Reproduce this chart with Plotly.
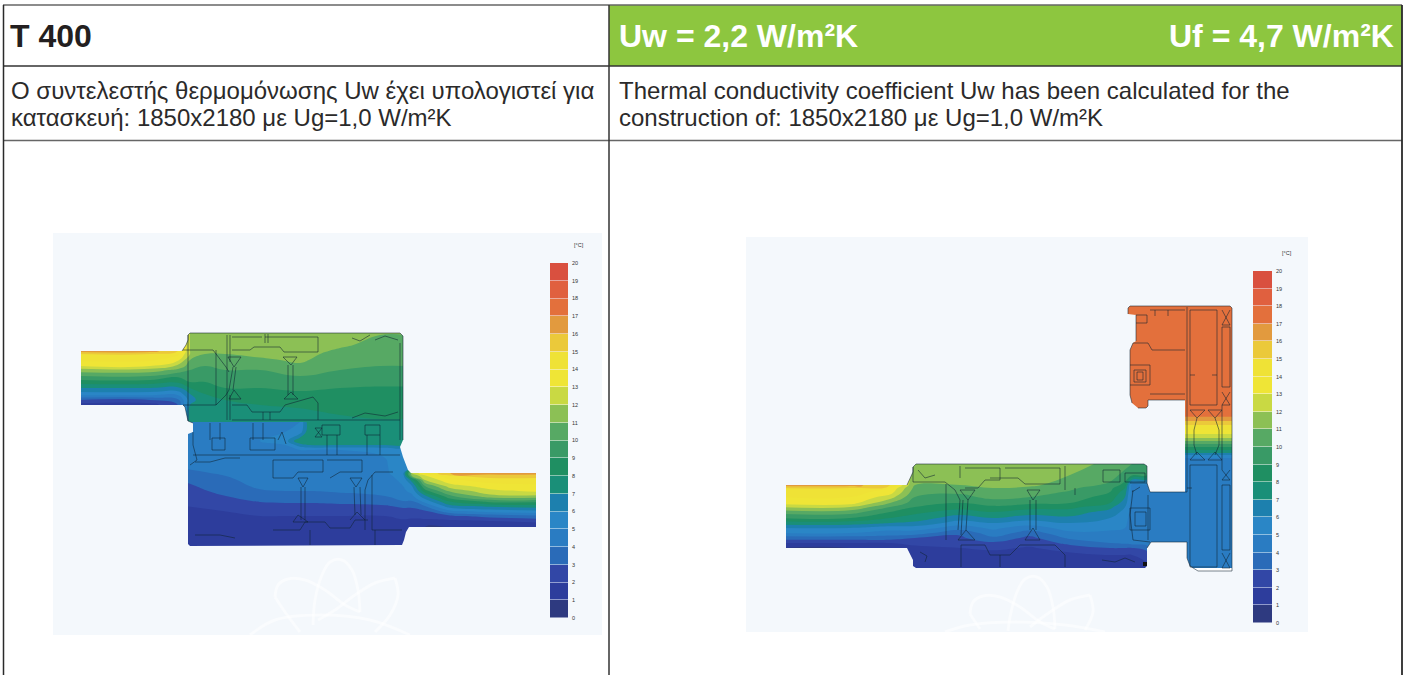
import plotly.graph_objects as go

# ---------- text ----------
TITLE = "T 400"
UW = "Uw = 2,2 W/m²K"
UF = "Uf = 4,7 W/m²K"
GR_1 = "Ο συντελεστής θερμομόνωσης Uw έχει υπολογιστεί για"
GR_2 = "κατασκευή: 1850x2180 με Ug=1,0 W/m²K"
EN_1 = "Thermal conductivity coefficient Uw has been calculated for the"
EN_2 = "construction of: 1850x2180 με Ug=1,0 W/m²K"

# ---------- temperature scale (°C bands, coldest first) ----------
BAND_EDGES = list(range(0, 21))
BAND_COLORS = ["#2e3a80", "#2d3d9c", "#3247a6", "#2a6bb8", "#2a7cc2", "#2a86c6", "#1d80ae",
               "#1a8f78", "#1f8f62", "#399a66", "#57a964", "#8cc055", "#c9d943", "#efe536",
               "#efe236", "#ebc93a", "#e29a3e", "#e3703c", "#e0603f", "#d9503f"]

# ---------- left section: temperatures read at picture positions ----------
LU_X = [80, 150, 178, 190, 205, 225, 260, 300, 340, 380, 405]
LU_Y = [330, 345, 351, 354, 360, 366, 370, 376, 382, 388, 394, 400, 405, 415, 423]
LU_T = [
    [16.5, 16.5, 15.5, 12, 11.5, 11.5, 11.5, 11.5, 11.5, 11.2, 11.2],
    [16.5, 16.5, 15.5, 12, 11.5, 11.5, 11.5, 11.5, 11.2, 10.6, 10.6],
    [16.5, 16.5, 15.0, 12, 11.5, 11.5, 11.5, 11.5, 10.8, 10.3, 10.3],
    [15.0, 15.0, 14.2, 12, 11.0, 11.0, 11.3, 11.5, 10.5, 10.2, 10.2],
    [14.2, 14.2, 13.2, 11, 10.5, 11.0, 10.8, 11.2, 10.3, 10.1, 10.1],
    [13.0, 13.0, 11.8, 10.5, 10.0, 10.5, 10.2, 10.8, 10.2, 10.0, 10.0],
    [11.6, 11.6, 10.7, 10.0, 10.0, 10.0, 10.0, 10.3, 10.0, 9.9, 9.9],
    [10.0, 10.0, 9.2, 9.5, 9.5, 9.7, 9.8, 10.0, 9.7, 9.6, 9.6],
    [8.5, 8.5, 8.2, 9.0, 9.0, 9.3, 9.5, 9.7, 9.4, 9.3, 9.3],
    [7.0, 7.0, 6.8, 8.0, 8.5, 9.0, 9.0, 9.2, 9.0, 8.9, 8.9],
    [5.5, 5.5, 5.3, 7.0, 8.0, 8.5, 8.6, 8.8, 8.7, 8.7, 8.7],
    [3.0, 3.0, 3.8, 6.5, 7.8, 8.0, 8.2, 8.4, 8.4, 8.5, 8.5],
    [1.5, 1.5, 3.0, 7.0, 7.8, 7.8, 8.0, 8.1, 8.2, 8.3, 8.3],
    [1.0, 1.0, 3.0, 7.5, 7.8, 7.5, 7.7, 7.8, 8.0, 8.1, 8.1],
    [1.0, 1.0, 3.0, 7.5, 7.5, 7.5, 7.5, 7.5, 7.8, 7.9, 7.9],
]

LL_X = [185, 260, 285, 300, 310, 340, 385, 403, 412, 425, 450, 490, 537]
LL_Y = [422, 432, 441, 445, 450, 458, 466, 473, 476, 480, 486, 491, 496, 501, 506, 511, 516, 521, 527, 535, 546]
LL_T = [
    [5.0, 5.0, 5.0, 5.0, 8.0, 8.0, 8.0, 8.0, 5.5, 14.0, 16.0, 16.5, 16.5],
    [5.0, 5.0, 5.0, 5.5, 8.0, 8.0, 8.0, 8.0, 5.5, 14.0, 16.0, 16.5, 16.5],
    [5.0, 5.0, 5.5, 8.0, 8.0, 8.0, 8.0, 8.0, 5.5, 14.0, 16.0, 16.5, 16.5],
    [5.0, 5.0, 5.0, 6.5, 7.0, 7.0, 7.0, 7.0, 5.5, 14.0, 16.0, 16.5, 16.5],
    [5.0, 5.0, 5.0, 5.0, 5.0, 5.0, 5.2, 5.5, 5.5, 14.0, 16.0, 16.5, 16.5],
    [4.8, 4.9, 4.9, 4.9, 4.9, 4.9, 5.0, 5.5, 5.5, 14.0, 16.0, 16.5, 16.5],
    [4.2, 4.8, 4.8, 4.8, 4.8, 4.8, 4.9, 5.5, 5.5, 14.0, 16.0, 16.5, 16.5],
    [3.7, 4.6, 4.7, 4.7, 4.7, 4.7, 4.8, 5.6, 12.0, 14.0, 16.0, 16.5, 16.5],
    [3.4, 4.5, 4.6, 4.6, 4.6, 4.6, 4.7, 5.4, 11.0, 12.8, 14.8, 15.5, 15.5],
    [3.1, 4.4, 4.4, 4.4, 4.4, 4.5, 4.6, 5.2, 7.5, 12.0, 13.8, 14.5, 14.5],
    [2.8, 4.2, 4.3, 4.3, 4.3, 4.4, 4.5, 5.0, 6.0, 10.0, 12.5, 13.5, 13.8],
    [2.6, 3.9, 4.0, 4.0, 4.0, 4.1, 4.3, 4.8, 5.3, 8.6, 11.2, 12.7, 13.2],
    [2.4, 3.5, 3.6, 3.6, 3.6, 3.8, 4.0, 4.5, 4.8, 6.8, 9.8, 11.7, 11.8],
    [2.2, 3.1, 3.2, 3.2, 3.2, 3.3, 3.5, 4.0, 4.0, 5.5, 8.2, 9.5, 9.5],
    [2.0, 2.6, 2.7, 2.7, 2.7, 2.8, 2.9, 3.2, 3.2, 4.0, 6.7, 7.3, 7.6],
    [1.8, 2.2, 2.3, 2.3, 2.3, 2.3, 2.3, 2.7, 2.7, 2.9, 4.8, 5.5, 5.8],
    [1.6, 2.0, 2.0, 2.0, 2.0, 2.0, 2.0, 2.2, 2.2, 2.3, 2.8, 3.4, 3.8],
    [1.5, 1.8, 1.8, 1.8, 1.8, 1.8, 1.8, 1.9, 1.8, 1.8, 1.8, 2.0, 2.3],
    [1.4, 1.6, 1.6, 1.6, 1.6, 1.6, 1.6, 1.6, 1.2, 1.0, 1.0, 1.0, 1.0],
    [1.3, 1.4, 1.4, 1.4, 1.4, 1.4, 1.4, 1.5, 1.2, 1.0, 1.0, 1.0, 1.0],
    [1.2, 1.2, 1.2, 1.2, 1.2, 1.2, 1.2, 1.2, 1.0, 1.0, 1.0, 1.0, 1.0],
]

# ---------- right section ----------
RB_X = [780, 850, 890, 915, 960, 993, 1030, 1070, 1110, 1125, 1132, 1147, 1150, 1240]
RB_Y = [464, 475, 485, 488, 492, 497, 503, 507, 512, 518, 523, 528, 533, 538, 543, 548, 555, 568]
RB_T = [
    [16.5, 16.5, 15.0, 11.5, 11.5, 11.5, 11.5, 11.3, 10.8, 10.3, 10.0, 10.0, 4.5, 4.5],
    [16.5, 16.5, 15.0, 11.3, 11.5, 11.4, 11.5, 11.0, 10.4, 9.7, 9.2, 9.0, 4.5, 4.5],
    [16.5, 16.5, 15.0, 11.0, 11.0, 11.2, 11.2, 10.5, 9.8, 8.6, 4.5, 4.5, 4.5, 4.5],
    [15.0, 15.0, 14.0, 10.7, 10.5, 11.0, 10.8, 10.2, 9.3, 8.0, 4.5, 4.5, 4.5, 4.5],
    [14.5, 14.5, 13.5, 10.4, 10.2, 10.7, 10.4, 9.9, 9.0, 7.5, 4.5, 4.5, 4.5, 4.5],
    [14.0, 14.0, 12.5, 10.0, 9.7, 10.3, 10.0, 9.5, 8.6, 7.0, 4.5, 4.5, 4.5, 4.5],
    [13.5, 13.5, 11.0, 9.5, 9.0, 9.5, 9.2, 9.0, 8.0, 6.5, 4.5, 4.5, 4.5, 4.5],
    [12.0, 12.0, 10.0, 9.0, 8.5, 8.8, 8.4, 8.3, 7.3, 6.0, 4.5, 4.5, 4.5, 4.5],
    [10.5, 10.5, 9.0, 8.3, 7.5, 8.0, 7.5, 7.5, 6.6, 5.7, 4.5, 4.5, 4.5, 4.5],
    [9.0, 9.0, 8.0, 7.5, 6.5, 7.0, 6.5, 6.8, 6.0, 5.4, 4.5, 4.5, 4.5, 4.5],
    [7.5, 7.5, 7.0, 6.8, 5.5, 6.0, 5.5, 6.0, 5.6, 5.2, 4.5, 4.5, 4.5, 4.5],
    [6.0, 6.0, 5.5, 5.5, 4.5, 5.2, 4.5, 5.4, 5.2, 5.0, 4.5, 4.5, 4.5, 4.5],
    [5.0, 5.0, 4.5, 4.5, 3.2, 4.6, 3.5, 4.8, 4.8, 4.7, 4.5, 4.5, 4.5, 4.5],
    [3.5, 3.5, 3.5, 3.0, 2.8, 3.8, 2.7, 4.2, 4.5, 4.5, 4.5, 4.5, 4.5, 4.5],
    [2.0, 2.0, 2.0, 2.2, 2.4, 2.8, 2.3, 3.3, 4.0, 4.2, 4.4, 4.5, 4.5, 4.5],
    [1.0, 1.0, 1.2, 1.8, 2.0, 2.2, 1.9, 2.5, 3.0, 3.0, 3.0, 3.5, 4.5, 4.5],
    [1.0, 1.0, 1.0, 1.5, 1.5, 1.6, 1.5, 1.7, 2.0, 2.0, 2.0, 2.4, 4.5, 4.5],
    [1.0, 1.0, 1.0, 1.3, 1.3, 1.3, 1.3, 1.4, 1.5, 1.5, 1.5, 1.8, 4.5, 4.5],
]

RW_X = [1125, 1240]
RW_Y = [300, 410, 416, 421, 425, 430, 434, 438, 441, 444, 447, 450, 453, 456, 460, 465]
RW_T_COL = [17.5, 17.5, 17.2, 16.0, 15.0, 14.0, 13.0, 12.0, 11.0, 10.0, 9.0, 8.0, 7.0, 5.5, 4.5, 4.5]

# ---------- picture panels and section outlines ----------
PANEL_L = [(53, 233), (53, 635), (602, 635), (602, 233), (53, 233)]
PANEL_R = [(746, 237), (746, 632), (1308, 632), (1308, 237), (746, 237)]

OUTLINE_L = [(81, 351), (182, 351), (186, 345), (188, 340), (188, 335), (190, 333), (400, 333), (403, 336),
             (403, 440), (400, 447), (403, 457), (408, 470), (411, 473), (536, 473), (536, 527), (409, 527),
             (406, 532), (404, 540), (402, 545), (190, 546), (188, 544), (188, 434), (193, 432), (193, 423),
             (188, 421), (185, 407), (183, 405), (81, 405), (81, 351)]
OUTLINE_R = [(786, 485), (907, 485), (913, 472), (913, 467), (916, 464), (1144, 464), (1147, 466), (1147, 483),
             (1150, 492), (1185, 492), (1185, 400), (1148, 400), (1148, 406), (1146, 408), (1138, 408),
             (1132, 403), (1130, 395), (1130, 350), (1133, 343), (1136, 341), (1136, 315), (1128, 314),
             (1128, 308), (1130, 306), (1230, 306), (1232, 308), (1232, 571), (1198, 571), (1190, 566),
             (1187, 558), (1187, 542), (1151, 542), (1147, 548), (1147, 566), (1145, 568), (916, 568),
             (913, 566), (913, 560), (907, 548), (786, 548), (786, 485)]

# ---------- profile line work ----------
LINES_L = [
    [(188, 421), (185, 407), (183, 405)], [(182, 351), (186, 345), (188, 340), (188, 335), (190, 333), (400, 333), (403, 336), (403, 440)],
    [(188, 335), (188, 421), (193, 423)], [(400, 343), (400, 440)],
    [(183, 350), (213, 350), (226, 367), (229, 372)], [(216, 350), (216, 405)], [(183, 405), (216, 405), (226, 395), (229, 390)],
    [(227, 335), (227, 420)], [(230, 335), (230, 362)], [(230, 395), (230, 420)],
    [(228, 357), (241, 357), (234, 367), (228, 357)], [(233, 367), (229, 390)], [(236, 367), (233, 390)], [(229, 399), (241, 399), (234, 390), (229, 399)],
    [(232, 337), (262, 337)], [(265, 337), (318, 337), (318, 352), (284, 352), (280, 347), (254, 347), (250, 350), (232, 350)],
    [(265, 334), (265, 343)], [(268, 334), (268, 343)],
    [(283, 357), (297, 357), (291, 365), (283, 357)], [(288, 365), (288, 395)], [(293, 365), (293, 395)], [(284, 399), (298, 399), (291, 392), (284, 399)],
    [(232, 405), (247, 405), (252, 412), (280, 412), (285, 405), (313, 397), (318, 403), (318, 420)], [(232, 420), (400, 420)],
    [(263, 412), (263, 420)], [(270, 412), (270, 420)],
    [(352, 338), (360, 341), (370, 335)], [(375, 340), (385, 336), (398, 340)], [(352, 418), (365, 413), (385, 416), (398, 412)],
    [(210, 423), (210, 440)], [(220, 423), (220, 440)], [(253, 423), (253, 440)], [(263, 423), (263, 440)],
    [(212, 438), (225, 438), (225, 450), (212, 450), (212, 438)], [(250, 438), (275, 438), (275, 450), (250, 450), (250, 438)],
    [(193, 455), (400, 455)], [(195, 462), (210, 462), (225, 458), (240, 458)],
    [(315, 428), (322, 437), (315, 437), (322, 428), (315, 428)], [(278, 440), (282, 432), (286, 444)],
    [(322, 425), (340, 425), (340, 435), (322, 435), (322, 425)], [(365, 425), (380, 425), (380, 435), (365, 435), (365, 425)],
    [(327, 435), (327, 455)], [(337, 435), (337, 455)], [(367, 435), (367, 455)], [(380, 435), (380, 455)],
    [(273, 460), (323, 460), (323, 472), (298, 472), (293, 478), (273, 478), (273, 460)], [(327, 460), (362, 460), (362, 472), (340, 472), (330, 478)],
    [(393, 472), (375, 472), (368, 480), (365, 490), (365, 530)], [(298, 478), (308, 478), (303, 487), (298, 478)], [(301, 487), (301, 520)], [(305, 487), (305, 520)],
    [(350, 478), (362, 478), (356, 487), (350, 478)], [(354, 487), (355, 515)], [(360, 487), (361, 515)], [(372, 475), (372, 530), (402, 530)],
    [(273, 530), (300, 530), (305, 522), (325, 522), (330, 528), (350, 528), (355, 520), (368, 520)], [(298, 515), (308, 522), (293, 522), (298, 515)],
    [(350, 520), (357, 512), (365, 520)], [(310, 530), (310, 545)], [(375, 530), (375, 545)],
    [(195, 535), (220, 535), (235, 538)], [(193, 432), (193, 445), (197, 460), (190, 465)],
]
LINES_R = [
    [(907, 485), (913, 472), (913, 467), (916, 464), (1144, 464), (1147, 466), (1147, 483)], [(913, 467), (913, 482), (945, 482), (955, 490), (960, 500), (958, 530)],
    [(946, 484), (946, 540)], [(960, 466), (960, 478)], [(965, 468), (1000, 468), (1000, 480), (985, 480), (978, 488), (965, 488)],
    [(1005, 468), (1060, 468), (1060, 484), (1025, 484), (1018, 478), (990, 478)], [(1065, 466), (1065, 490)], [(1075, 488), (1075, 495)],
    [(960, 490), (975, 490), (968, 500), (960, 490)], [(963, 500), (961, 535)], [(968, 500), (966, 530)],
    [(1027, 490), (1040, 490), (1033, 500), (1027, 490)], [(1030, 500), (1030, 530)], [(1036, 500), (1036, 530)], [(1025, 540), (1040, 540), (1033, 528), (1025, 540)],
    [(958, 540), (975, 540), (966, 530), (958, 540)], [(961, 545), (985, 545), (990, 555), (1010, 555), (1020, 545), (1055, 545), (1065, 555), (1065, 567)],
    [(961, 545), (961, 567)], [(1000, 555), (1000, 567)], [(918, 470), (925, 478), (935, 475)], [(920, 552), (927, 556), (925, 562)],
    [(1103, 470), (1120, 470), (1120, 482), (1103, 482), (1103, 470)], [(1125, 473), (1145, 473), (1145, 482), (1125, 482), (1125, 473)],
    [(1102, 560), (1115, 562), (1125, 558), (1135, 562)],
    [(1128, 314), (1128, 308), (1130, 306), (1230, 306), (1232, 308), (1232, 571), (1198, 571), (1190, 566), (1187, 558), (1187, 542), (1151, 542), (1147, 548)],
    [(1136, 341), (1136, 315), (1147, 315), (1147, 323), (1136, 323)], [(1150, 310), (1185, 310)], [(1155, 310), (1155, 316)], [(1168, 310), (1168, 316)],
    [(1133, 343), (1148, 343), (1152, 350), (1185, 350)], [(1132, 403), (1130, 395), (1130, 350), (1133, 343)], [(1185, 400), (1148, 400), (1148, 406), (1146, 408), (1138, 408)],
    [(1150, 394), (1185, 394)], [(1130, 365), (1150, 365), (1150, 385), (1130, 385)], [(1134, 370), (1146, 370), (1146, 382), (1134, 382), (1134, 370)], [(1137, 372), (1143, 372), (1143, 380), (1137, 380), (1137, 372)],
    [(1187, 307), (1187, 492)], [(1190, 310), (1217, 310), (1217, 405), (1190, 405), (1190, 310)], [(1190, 375), (1195, 375)], [(1217, 375), (1212, 375)],
    [(1222, 327), (1230, 327), (1230, 387), (1222, 387), (1222, 327)], [(1222, 310), (1230, 325), (1222, 325), (1230, 310)], [(1222, 392), (1230, 405), (1222, 405), (1230, 392)],
    [(1190, 410), (1205, 410), (1197, 418), (1190, 410)], [(1208, 410), (1222, 410), (1215, 418), (1208, 410)], [(1197, 418), (1194, 430), (1194, 445), (1197, 455)], [(1215, 418), (1219, 430), (1219, 445), (1215, 455)],
    [(1222, 405), (1222, 470)], [(1190, 460), (1205, 460), (1197, 452), (1190, 460)], [(1208, 460), (1222, 460), (1215, 452), (1208, 460)],
    [(1190, 465), (1217, 465), (1217, 567), (1190, 567), (1190, 465)], [(1222, 485), (1230, 485), (1230, 550), (1222, 550), (1222, 485)], [(1222, 470), (1230, 480), (1222, 480), (1230, 470)], [(1222, 553), (1230, 568), (1222, 568), (1230, 553)],
    [(1130, 483), (1147, 483), (1150, 492)], [(1133, 490), (1130, 515), (1133, 540), (1150, 542)], [(1140, 487), (1132, 492)], [(1148, 495), (1148, 540)],
    [(1130, 508), (1150, 508), (1150, 530), (1130, 530), (1130, 508)], [(1135, 512), (1146, 512), (1146, 526), (1135, 526), (1135, 512)], [(1187, 488), (1192, 488)], [(1150, 492), (1187, 492)],
]
WATERMARK_L = [
    [(275, 597), (278, 585), (288, 579), (305, 580), (325, 590), (345, 605), (360, 612)],
    [(313, 625), (315, 600), (322, 575), (330, 562), (342, 560), (352, 570), (358, 590), (360, 612)],
    [(275, 597), (285, 612), (300, 632)], [(395, 578), (375, 583), (355, 595), (335, 610), (318, 620)],
    [(395, 578), (398, 595), (390, 615), (375, 632)], [(250, 635), (275, 620), (320, 615), (370, 620), (410, 635)],
]
WATERMARK_R = [
    [(970, 614), (973, 602), (983, 596), (1000, 597), (1020, 607), (1040, 622), (1055, 629)],
    [(1008, 631), (1010, 617), (1017, 592), (1025, 579), (1037, 577), (1047, 587), (1053, 607), (1055, 629)],
    [(970, 614), (980, 629)], [(1090, 595), (1070, 600), (1050, 612), (1030, 627)],
    [(1090, 595), (1093, 612), (1085, 630)], [(945, 632), (970, 625), (1015, 622), (1065, 625), (1105, 632)],
]
BLACK_DOT = [(1145, 564)]

IMAGE_BG = "#f4f8fc"
LINE_COLOR = "rgba(15,35,50,0.55)"
INK = "#2b2a2a"
GREEN = "#8dc63f"

# ---------- build ----------
stepped = []
for i, c in enumerate(BAND_COLORS):
    stepped += [[i / 20, c], [(i + 1) / 20, c]]


def field(x, y, z):
    return go.Contour(x=x, y=y, z=z, zmin=0, zmax=20, colorscale=stepped, showscale=False,
                      contours=dict(start=0, end=20, size=1, coloring="fill", showlines=False),
                      line=dict(width=0, smoothing=1.3), hoverinfo="skip", xaxis="x", yaxis="y")


def poly(points, **kw):
    return go.Scatter(x=[p[0] for p in points], y=[p[1] for p in points], hoverinfo="skip",
                      xaxis="x", yaxis="y", **kw)


fig = go.Figure()
fig.add_trace(field(LU_X, LU_Y, LU_T))
fig.add_trace(field(LL_X, LL_Y, LL_T))
fig.add_trace(field(RW_X, RW_Y, [[t, t] for t in RW_T_COL]))
fig.add_trace(field(RB_X, RB_Y, RB_T))

for panel, outline in ((PANEL_L, OUTLINE_L), (PANEL_R, OUTLINE_R)):
    fig.add_trace(poly(panel + outline + panel[:1], mode="lines", fill="toself", fillcolor=IMAGE_BG, line=dict(width=0)))
for wm in WATERMARK_L + WATERMARK_R:
    fig.add_trace(poly(wm, mode="lines", line=dict(color="rgba(255,255,255,0.5)", width=3, shape="spline")))
for seg in LINES_L + LINES_R:
    fig.add_trace(poly(seg, mode="lines", line=dict(color=LINE_COLOR, width=1)))
fig.add_trace(poly(BLACK_DOT, mode="markers", marker=dict(color="#111", size=4, symbol="square")))


def scale_bar(n, x0, x1, y0, y1):
    W, H = 1410, 675
    fig.add_trace(go.Heatmap(x=[0, 1], y=BAND_EDGES, z=[[v] for v in range(20)], zmin=0, zmax=20,
                             colorscale=stepped, showscale=False, ygap=0.5, hoverinfo="skip",
                             xaxis=f"x{n}", yaxis=f"y{n}"))
    fig.update_layout({
        f"xaxis{n}": dict(domain=[x0 / W, x1 / W], anchor=f"y{n}", range=[0, 1], visible=False, fixedrange=True),
        f"yaxis{n}": dict(domain=[1 - y1 / H, 1 - y0 / H], anchor=f"x{n}", side="right", range=[0, 20],
                          tickvals=BAND_EDGES, ticktext=[str(v) for v in BAND_EDGES], ticks="",
                          showgrid=False, zeroline=False, showline=False, ticklabelstandoff=3, automargin=False,
                          tickfont=dict(family="Liberation Sans", size=5.5, color="#333"), fixedrange=True),
    })


scale_bar(2, 550, 568, 263, 618)
scale_bar(3, 1253, 1272, 271, 623)

shapes = [
    dict(type="rect", x0=609, x1=1402, y0=5, y1=66, fillcolor=GREEN, line=dict(width=0), layer="below"),
]
grid = [(3, 5, 1402, 5, "#666", 1.5), (3, 66, 1402, 66, "#333", 1.5), (3, 140.5, 1402, 140.5, "#666", 1.5),
        (3.5, 5, 3.5, 675, "#2a2a2a", 1.5), (609, 5, 609, 675, "#333", 1.5), (1402, 5, 1402, 675, "#2a2a2a", 1.8)]
for x0, y0, x1, y1, c, w in grid:
    shapes.append(dict(type="line", x0=x0, y0=y0, x1=x1, y1=y1, line=dict(color=c, width=w), layer="above"))

font = "Liberation Sans"


def label(text, x, y, size, color=INK, anchor="left", bold=False):
    t = f"<b>{text}</b>" if bold else text
    return dict(text=t, x=x, y=y, xref="x", yref="y", xanchor=anchor, yanchor="middle", showarrow=False,
                font=dict(family=font, size=size, color=color))


annotations = [
    label(TITLE, 8, 36, 32, color="#231f20", bold=True),
    label(UW, 617, 36, 32, color="white", bold=True),
    label(UF, 1396, 36, 32, color="white", anchor="right", bold=True),
    label(GR_1, 9, 90, 24),
    label(GR_2, 9, 117, 24),
    label(EN_1, 617, 90, 24),
    label(EN_2, 617, 117, 24),
    label("[°C]", 572, 245, 5.5, color="#333"),
    label("[°C]", 1280, 253, 5.5, color="#333"),
]

fig.update_layout(
    width=1410, height=675, margin=dict(l=0, r=0, t=0, b=0, pad=0, autoexpand=False), paper_bgcolor="white", plot_bgcolor="rgba(0,0,0,0)",
    showlegend=False, shapes=shapes, annotations=annotations,
    xaxis=dict(domain=[0, 1], range=[0, 1410], visible=False, fixedrange=True),
    yaxis=dict(domain=[0, 1], range=[675, 0], visible=False, fixedrange=True),
)

fig.write_html("out.html", config=dict(displayModeBar=False),
               post_script="document.documentElement.style.margin='0';document.body.style.margin='0';document.body.style.overflow='hidden';")
